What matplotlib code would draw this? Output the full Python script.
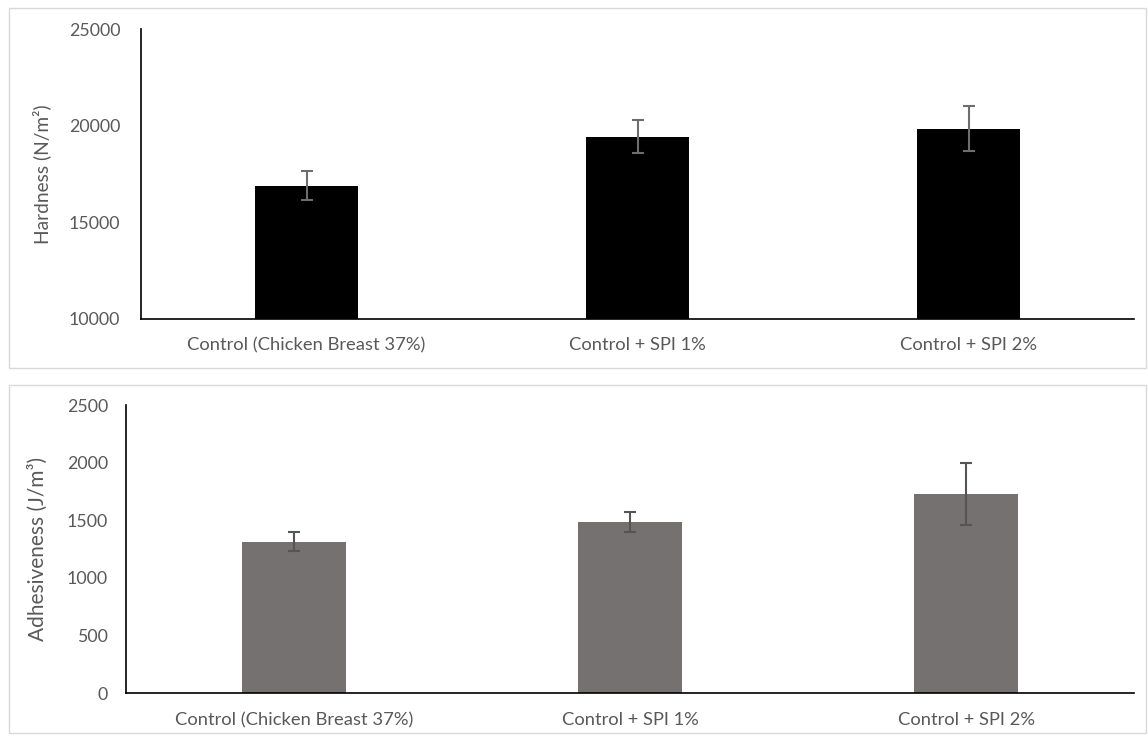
import matplotlib.pyplot as plt
from matplotlib.patches import Rectangle

# Daten
categories = ["Control (Chicken Breast 37%)", "Control + SPI 1%", "Control + SPI 2%"]
hardness = [16900, 19430, 19850]
hardness_err = [770, 850, 1160]
adhesiveness = [1315, 1484, 1727]
adhesiveness_err = [83, 90, 270]

W, H = 1148, 737
fig = plt.figure(figsize=(W / 100, H / 100), dpi=100)
plt.rcParams['font.family'] = ['Lato', 'DejaVu Sans']

text_col = '#595959'


def px_axes(left, right, top, bottom):
    return fig.add_axes([left / W, 1 - bottom / H, (right - left) / W, (bottom - top) / H])


# Rahmen der beiden Diagramme
for y0, y1 in [(8, 368), (385, 733)]:
    fig.patches.append(Rectangle((9 / W, 1 - y1 / H), (1146 - 9) / W, (y1 - y0) / H,
                                 transform=fig.transFigure, fill=False,
                                 edgecolor='#d9d9d9', lw=1.0))


def setup(ax, ylim, yticks, ylabel, xpad, ypad, ylsize):
    ax.set_xlim(-0.5, 2.5)
    ax.set_ylim(*ylim)
    ax.set_yticks(yticks)
    ax.set_xticks(range(len(categories)))
    ax.set_xticklabels(categories)
    ax.spines['top'].set_visible(False)
    ax.spines['right'].set_visible(False)
    ax.spines['left'].set_color('#000000')
    ax.spines['bottom'].set_color('#000000')
    ax.spines['left'].set_linewidth(1.2)
    ax.spines['bottom'].set_linewidth(1.2)
    ax.tick_params(axis='both', length=0, colors=text_col)
    ax.tick_params(axis='x', pad=xpad, labelsize=13.2)
    ax.tick_params(axis='y', pad=ypad, labelsize=12.8)
    ax.set_ylabel(ylabel, fontsize=ylsize, color=text_col)


# Oberes Diagramm: Härte
ax1 = px_axes(141, 1134, 29, 319)
ax1.bar(range(3), hardness, width=0.314, color='#000000')
ax1.errorbar(range(3), hardness, yerr=hardness_err, fmt='none', ecolor='#6e6e6e',
             elinewidth=1.5, capsize=4.5, capthick=1.5)
setup(ax1, (10000, 25000), [10000, 15000, 20000, 25000], "Hardness (N/m²)", 13, 15, 13.8)
ax1.yaxis.set_label_coords((51 - 141) / (1134 - 141), 0.5)

# Unteres Diagramm: Adhäsivität
ax2 = px_axes(126, 1134, 405, 693)
ax2.bar(range(3), adhesiveness, width=0.31, color='#767171')
ax2.errorbar(range(3), adhesiveness, yerr=adhesiveness_err, fmt='none', ecolor='#555555',
             elinewidth=1.5, capsize=4.5, capthick=1.5)
setup(ax2, (0, 2500), [0, 500, 1000, 1500, 2000, 2500], "Adhesiveness (J/m³)", 14, 13, 15)
ax2.yaxis.set_label_coords((48 - 126) / (1134 - 126), 0.5)

fig.savefig('out.png', dpi=100)
